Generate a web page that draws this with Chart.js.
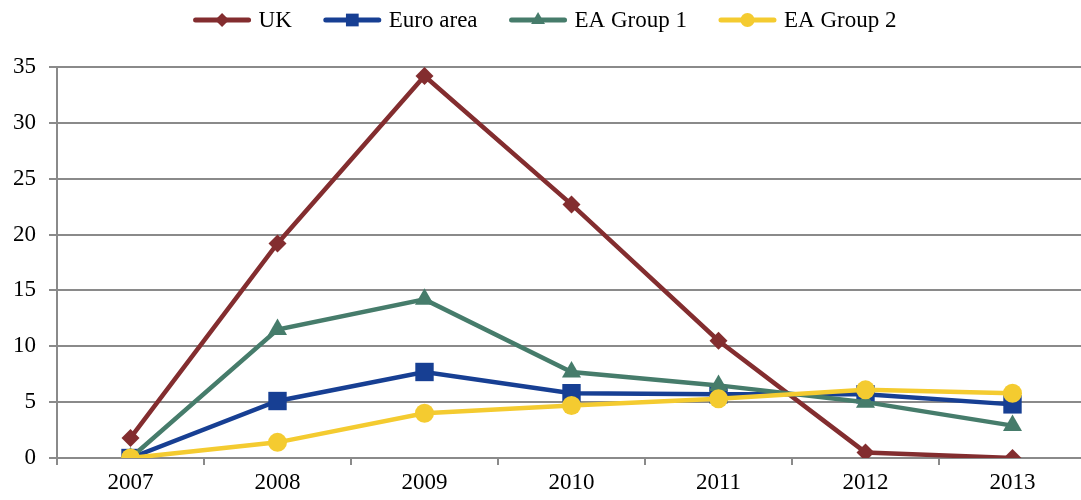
<!DOCTYPE html>
<html>
<head>
<meta charset="utf-8">
<script src="https://cdn.jsdelivr.net/npm/chart.js@4.4.0/dist/chart.umd.min.js"></script>
<style>
  html, body { margin: 0; padding: 0; background: #fff; overflow: hidden; }
  #wrap { width: 1081px; height: 500px; overflow: hidden; }
</style>
</head>
<body>
<div id="wrap"><canvas id="chart" width="1099" height="500"></canvas></div>
<script>
// Data
const years = ['2007', '2008', '2009', '2010', '2011', '2012', '2013'];
const ukValues = [1.8, 19.2, 34.2, 22.7, 10.5, 0.5, 0.0];
const euroAreaValues = [0.0, 5.1, 7.7, 5.8, 5.7, 5.7, 4.8];
const eaGroup1Values = [0.0, 11.5, 14.2, 7.7, 6.5, 5.0, 2.9];
const eaGroup2Values = [0.0, 1.4, 4.0, 4.7, 5.3, 6.1, 5.8];
const yTicks = [0, 5, 10, 15, 20, 25, 30, 35];

const fontFamily = '"Liberation Serif", "DejaVu Serif", serif';

const series = [
    { label: 'UK', data: ukValues, color: '#832D2F', style: 'rectRot', radius: 9, legendRadius: 7 },
    { label: 'Euro area', data: euroAreaValues, color: '#173F93', style: 'rect', radius: 13, legendRadius: 9 },
    { label: 'EA Group 1', data: eaGroup1Values, color: '#467C6B', style: 'triangle', radius: 11, legendRadius: 8 },
    { label: 'EA Group 2', data: eaGroup2Values, color: '#F4CB30', style: 'circle', radius: 9.5, legendRadius: 7 }
];

const datasets = series.map((s, i) => ({
    label: s.label,
    data: s.data,
    borderColor: s.color,
    backgroundColor: s.color,
    borderWidth: 4.5,
    pointStyle: s.style,
    pointRadius: s.radius,
    pointHoverRadius: s.radius,
    pointBorderWidth: 0,
    tension: 0,
    order: series.length - 1 - i, // later series drawn on top, like the original
    legendRadius: s.legendRadius
}));

// legend drawn by hand: short line with the marker in the middle, then the label
const lineLegend = {
    id: 'lineLegend',
    afterDraw(chart) {
        const c = chart.ctx;
        const swatchLen = 57, textGap = 8, itemGap = 32, centerX = 545, y = 20;
        c.save();
        c.font = '23px ' + fontFamily;
        const widths = chart.data.datasets.map(ds => c.measureText(ds.label).width);
        let total = 0;
        widths.forEach(w => { total += swatchLen + textGap + w; });
        total += itemGap * (widths.length - 1);
        let x = centerX - total / 2;
        chart.data.datasets.forEach((ds, i) => {
            c.strokeStyle = ds.borderColor;
            c.lineWidth = 5;
            c.lineCap = 'round';
            c.beginPath();
            c.moveTo(x + 2, y);
            c.lineTo(x + swatchLen - 2, y);
            c.stroke();
            c.fillStyle = ds.borderColor;
            Chart.helpers.drawPoint(c, {
                pointStyle: ds.pointStyle, radius: ds.legendRadius, rotation: 0, borderWidth: 0
            }, x + swatchLen / 2, y);
            c.fillStyle = '#000';
            c.textBaseline = 'middle';
            c.textAlign = 'left';
            c.fillText(ds.label, x + swatchLen + textGap, y + 1);
            x += swatchLen + textGap + widths[i] + itemGap;
        });
        c.restore();
    }
};

const ctx = document.getElementById('chart').getContext('2d');
new Chart(ctx, {
    type: 'line',
    data: { labels: years, datasets: datasets },
    plugins: [lineLegend],
    options: {
        responsive: false,
        animation: false,
        layout: { padding: { left: 0, right: 0, top: 67, bottom: 0 } },
        plugins: {
            tooltip: { enabled: false },
            legend: { display: false }
        },
        scales: {
            x: {
                offset: true,
                grid: {
                    offset: true,
                    drawOnChartArea: false,
                    color: '#8a8a8a',
                    lineWidth: 2,
                    tickLength: 7
                },
                border: { color: '#8a8a8a', width: 2 },
                ticks: {
                    color: '#000',
                    padding: 6,
                    font: { family: fontFamily, size: 23, lineHeight: 1 }
                }
            },
            y: {
                min: 0,
                max: 35,
                afterBuildTicks: function (axis) {
                    axis.ticks = yTicks.map(v => ({ value: v }));
                },
                grid: {
                    color: '#8a8a8a',
                    lineWidth: 2,
                    tickLength: 8
                },
                border: { color: '#8a8a8a', width: 2 },
                ticks: {
                    color: '#000',
                    padding: 13,
                    font: { family: fontFamily, size: 23 }
                }
            }
        }
    }
});
</script>
</body>
</html>
